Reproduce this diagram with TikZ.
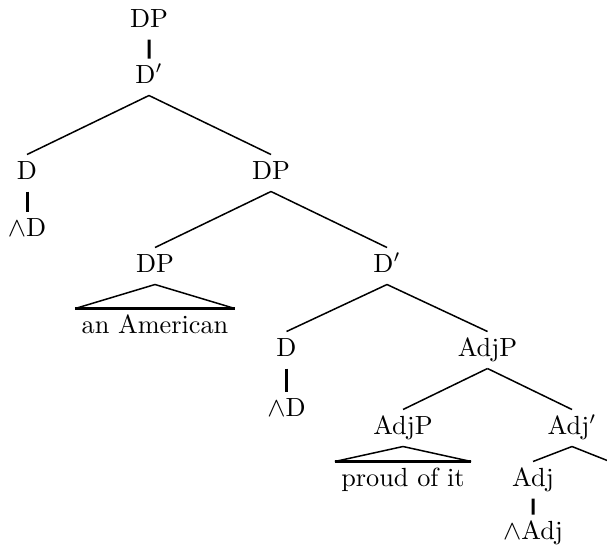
\documentclass[tikz,border=0pt]{standalone}

\begin{document}
\begin{tikzpicture}
    [grow = down,
    every node/.style = {font = \fontsize{10.5}{12}\selectfont, text height = 7.2pt, text depth = 2.2pt,
        inner xsep = 2.4pt, inner ysep = 2.5pt},
    parent anchor = south,
    child anchor = north,
    edge from parent/.style = {draw, line width = 0.6pt},
    unary line/.style = {line width = 1.2pt},
    roof/.style = {edge from parent path = {(\tikzparentnode.south) -- (\tikzchildnode.north west)
        (\tikzparentnode.south) -- (\tikzchildnode.north east)}},
    roof base/.style = {line width = 1.2pt}
    ]
    \useasboundingbox (0,0) rectangle (242.8pt,-220pt);
    \node (dp1) at (59.6pt,-8.4pt) {DP}
        child [level distance = 22.4pt] {
            node (dbar1) {D$'$}
                child [level distance = 38.4pt, sibling distance = 97.6pt] {
                    node (d1) {D}
                        child [level distance = 22.8pt] {node (wd1) {$\wedge$D} edge from parent [unary line]}
                }
                child [level distance = 38.4pt, sibling distance = 97.6pt] {
                    node (dp2) {DP}
                        child [level distance = 37.2pt, sibling distance = 92.8pt] {
                            node (dp3) {DP}
                                child [roof, level distance = 24.4pt] {node (amer) {an American}}
                        }
                        child [level distance = 37.2pt, sibling distance = 92.8pt] {
                            node (dbar2) {D$'$}
                                child [level distance = 33.6pt, sibling distance = 80.4pt] {
                                    node (d2) {D}
                                        child [level distance = 24pt] {node (wd2) {$\wedge$D} edge from parent [unary line]}
                                }
                                child [level distance = 33.6pt, sibling distance = 80.4pt] {
                                    node (adjp1) {AdjP}
                                        child [level distance = 31.2pt, sibling distance = 67.6pt] {
                                            node (adjp2) {AdjP}
                                                child [roof, level distance = 20.8pt] {node (proud) {proud of it}}
                                        }
                                        child [level distance = 31.2pt, sibling distance = 67.6pt] {
                                            node (adjbar) {Adj$'$}
                                                child [level distance = 20.8pt, sibling distance = 31.2pt] {
                                                    node (adj) {Adj}
                                                        child [level distance = 21.2pt] {node (wadj) {$\wedge$Adj} edge from parent [unary line]}
                                                }
                                                child [level distance = 13.6pt, sibling distance = 31.2pt, child anchor = center] {coordinate (adjsis)}
                                        }
                                }
                        }
                }
            edge from parent [unary line]
        };
    \draw [roof base] (amer.north west) -- (amer.north east);
    \draw [roof base] (proud.north west) -- (proud.north east);
\end{tikzpicture}
\end{document}
